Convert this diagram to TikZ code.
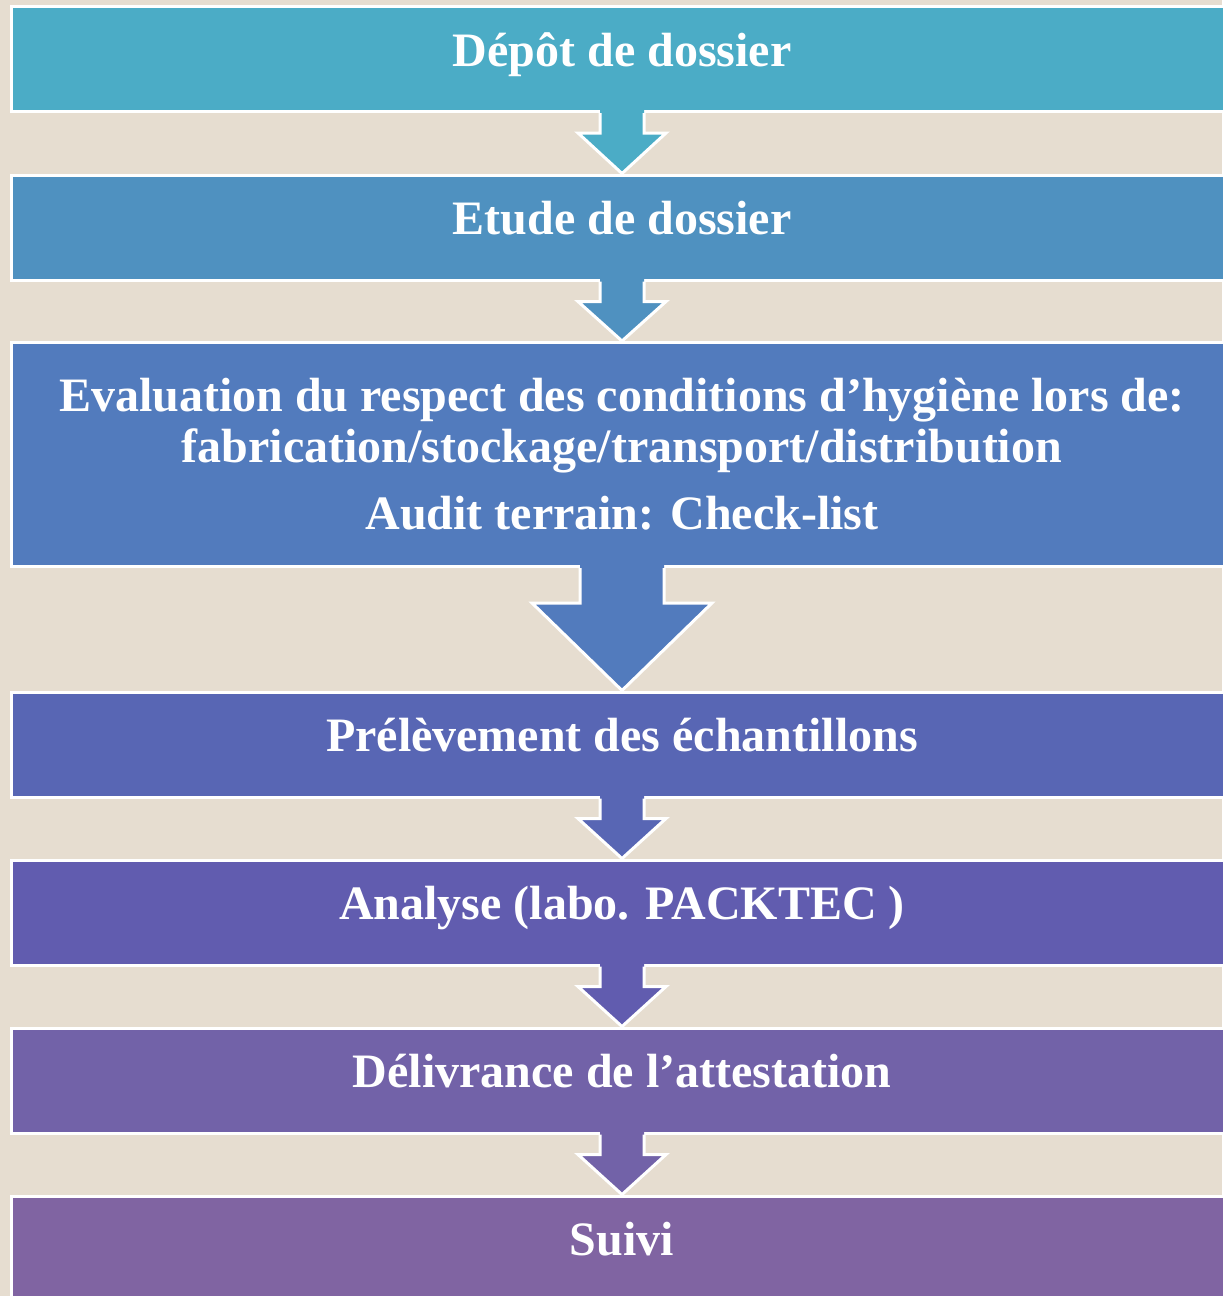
\documentclass[tikz,border=0pt]{standalone}
\usepackage{fontspec}
\setmainfont{Liberation Serif}
\usetikzlibrary{calc}

\definecolor{paper}{HTML}{E6DDD0}
\definecolor{stepA}{HTML}{4BACC6}
\definecolor{stepB}{HTML}{4F91C0}
\definecolor{stepC}{HTML}{527BBD}
\definecolor{stepD}{HTML}{5866B4}
\definecolor{stepE}{HTML}{615CAF}
\definecolor{stepF}{HTML}{7262A8}
\definecolor{stepG}{HTML}{8064A2}

\tikzset{
  stagebox/.style={draw=white, line width=1.5pt, minimum width=610.5pt,
    text=white, font=\fontsize{24}{25.5}\selectfont\bfseries, align=center},
  stage/.style={stagebox, minimum height=52.5pt, text height=16pt, text depth=9pt},
  arrowline/.style={draw=white, line width=1.5pt, line join=miter}
}

% block arrow: from, to, colour, shaft half width, head half width, shaft length
\newcommand{\flowarrow}[6]{%
  \fill[#3] ($(#1.south)+(-#4,-3)$) -- ($(#1.south)+(-#4,#6)$) -- ($(#1.south)+(-#5,#6)$)
    -- (#2.north) -- ($(#1.south)+(#5,#6)$) -- ($(#1.south)+(#4,#6)$) -- ($(#1.south)+(#4,-3)$) -- cycle;
  \draw[arrowline] ($(#1.south)+(-#4,0)$) -- ($(#1.south)+(-#4,#6)$) -- ($(#1.south)+(-#5,#6)$)
    -- (#2.north) -- ($(#1.south)+(#5,#6)$) -- ($(#1.south)+(#4,#6)$) -- ($(#1.south)+(#4,0)$);
}

\begin{document}
\begin{tikzpicture}[x=0.5pt, y=-0.5pt]
    % Background
    \fill[paper] (0,0) rectangle (1222,1296);
    \useasboundingbox (0,0) rectangle (1222,1296);

    % Steps
    \node[stage, fill=stepA] (depot) at (622,59) {Dépôt de dossier};
    \node[stage, fill=stepB] (etude) at (622,227.5) {Etude de dossier};
    \node[stagebox, fill=stepC, minimum height=112pt] (eval) at (622,454.5)
        {Evaluation du respect des conditions d’hygiène lors de:\\
         fabrication/stockage/transport/distribution\\[8pt]
         Audit terrain: Check-list};
    \node[stage, fill=stepD] (prelev) at (622,744.5) {Prélèvement des échantillons};
    \node[stage, fill=stepE] (analyse) at (622,912.5) {Analyse (labo. PACKTEC )};
    \node[stage, fill=stepF] (delivre) at (622,1080.5) {Délivrance de l’attestation};
    \node[stage, fill=stepG] (suivi) at (622,1248.5) {Suivi};

    % Arrows
    \flowarrow{depot}{etude}{stepA}{22}{44}{20}
    \flowarrow{etude}{eval}{stepB}{22}{44}{20}
    \flowarrow{eval}{prelev}{stepC}{42}{90}{35}
    \flowarrow{prelev}{analyse}{stepD}{22}{44}{20}
    \flowarrow{analyse}{delivre}{stepE}{22}{44}{20}
    \flowarrow{delivre}{suivi}{stepF}{22}{44}{20}
\end{tikzpicture}
\end{document}
